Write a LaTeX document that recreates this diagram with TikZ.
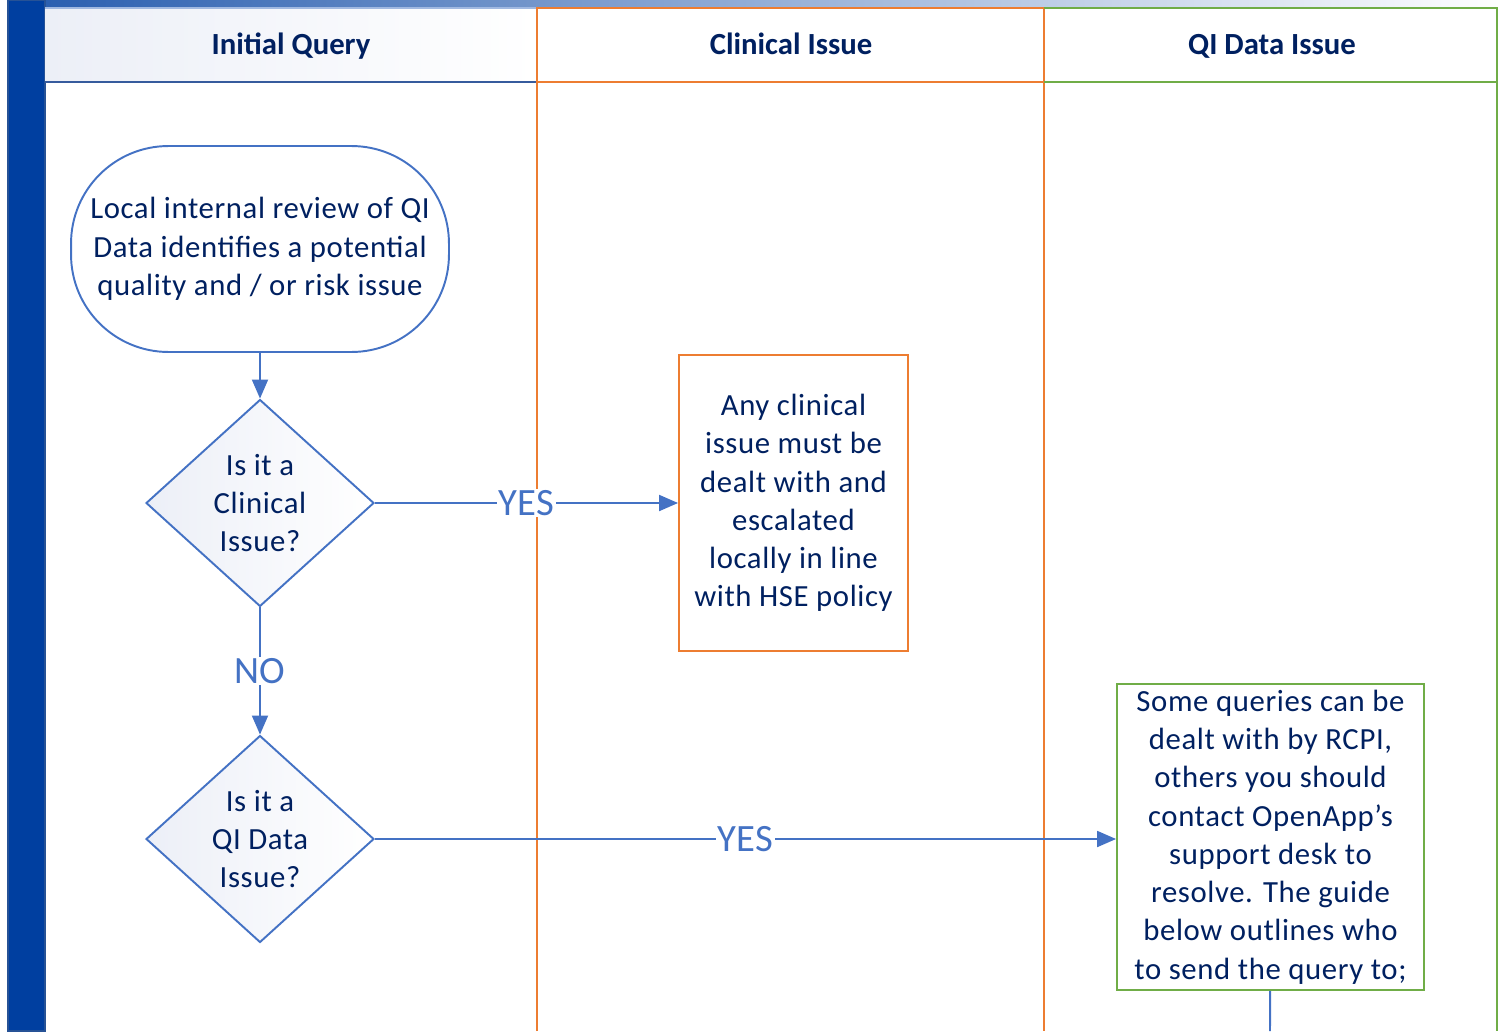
\documentclass[tikz,border=0pt]{standalone}
\usepackage{fontspec}
\setmainfont{Carlito}
\newfontfamily\bodyfont[LetterSpace=2]{Carlito}
\usetikzlibrary{shapes.geometric,arrows.meta}
\definecolor{navy}{HTML}{002060}
\definecolor{flowblue}{HTML}{4472C4}
\definecolor{laneorange}{HTML}{ED7D31}
\definecolor{lanegreen}{HTML}{70AD47}
\definecolor{barblue}{HTML}{003FA0}
\definecolor{shadeblue}{HTML}{ECEFF7}

\begin{document}
\begin{tikzpicture}[x=0.02cm,y=-0.02cm,
	txt/.style={font=\bodyfont\fontsize{17.5}{21.8}\selectfont, text=navy, align=center},
	head/.style={font=\fontsize{17.5}{21}\selectfont\bfseries, text=navy, anchor=base},
	flow/.style={draw=flowblue, line width=1.1pt},
	decision/.style={shape=diamond, flow, txt, left color=shadeblue, right color=white, minimum width=4.56cm, minimum height=4.14cm, inner sep=0pt, aspect=1.1},
	answer/.style={fill=white, text=flowblue, font=\fontsize{22}{24}\selectfont, inner sep=1pt},
	link/.style={flow, -{Triangle[length=0.38cm,width=0.32cm]}}]

	\useasboundingbox (0,0) rectangle (1500,1031);

	% swim lanes
	\shade[left color=barblue!85, middle color=flowblue!60, right color=white] (8,0) rectangle (1500,7);
	\fill[barblue, draw=barblue!70!gray, line width=0.6pt] (8,0) rectangle (45,1031);
	\shade[left color=shadeblue, right color=white] (45,8) rectangle (537,82);
	\draw[flowblue!80!black, line width=1.1pt] (45,82) -- (537,82);
	\draw[flowblue!50, line width=0.8pt] (45,8) -- (537,8);
	\draw[laneorange, line width=1.1pt] (537,1031) -- (537,8) -- (1044,8) -- (1044,1031);
	\draw[laneorange, line width=1.1pt] (537,82) -- (1044,82);
	\draw[lanegreen, line width=1.1pt] (1044,8) -- (1497,8) -- (1497,1031);
	\draw[lanegreen, line width=1.1pt] (1044,82) -- (1497,82);

	\node[head] (hinit) at (291,54) {Initial Query};
	\node[head] (hclin) at (791,54) {Clinical Issue};
	\node[head] (hqi) at (1272,54) {QI Data Issue};

	% flow
	\node[txt, flow, rounded corners=1.95cm, minimum width=7.56cm, minimum height=4.12cm, inner sep=0pt] (review) at (260,249) {Local internal review of QI\\Data identifies a potential\\quality and / or risk issue};
	\node[decision] (clin) at (260,503) {Is it a\\Clinical\\Issue?};
	\node[decision] (qidata) at (260,839) {Is it a\\QI Data\\Issue?};
	\node[txt, draw=laneorange, line width=1.1pt, minimum width=4.58cm, minimum height=5.92cm, inner sep=0pt] (escalate) at (793.5,503) {Any clinical\\issue must be\\dealt with and\\escalated\\locally in line\\with HSE policy};
	\node[txt, draw=lanegreen, line width=1.1pt, minimum width=6.14cm, minimum height=6.12cm, inner sep=0pt] (openapp) at (1270.5,837) {Some queries can be\\dealt with by RCPI,\\others you should\\contact OpenApp’s\\support desk to\\resolve. The guide\\below outlines who\\to send the query to;};
	\coordinate (exit) at (1270,1031);

	\draw[link] (review) -- (clin);
	\draw[link] (clin) -- node[answer]{NO} (qidata);
	\draw[link] (clin) -- node[answer]{YES} (escalate);
	\draw[link] (qidata.east) -- node[answer]{YES} (qidata.east -| openapp.west);
	\draw[flow] (openapp) -- (exit);

\end{tikzpicture}
\end{document}
